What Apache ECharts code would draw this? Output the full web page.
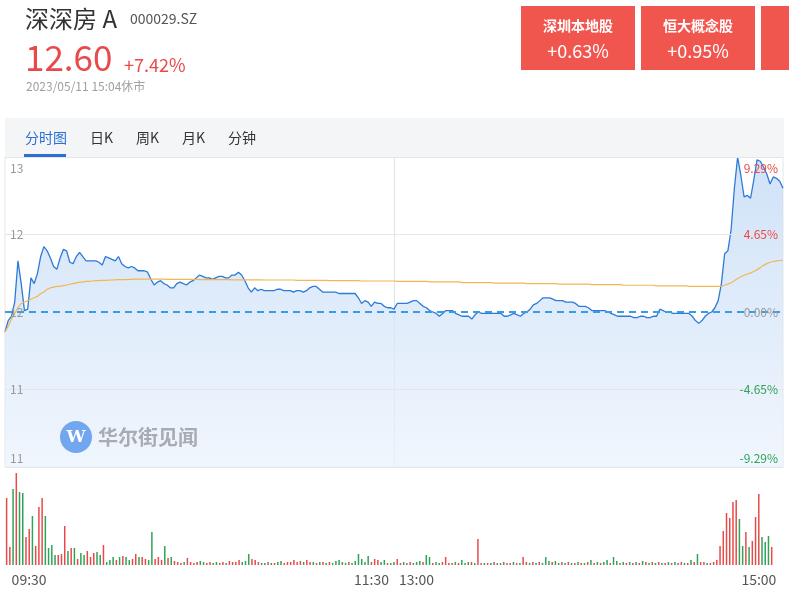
<!DOCTYPE html>
<html><head><meta charset="utf-8">
<script src="https://cdn.jsdelivr.net/npm/echarts@6/dist/echarts.min.js"></script>
<style>html,body{margin:0;padding:0;background:#fff}#c{width:789px;height:591px}</style>
</head><body><div id="c"></div>
<script>
// ---- header / text data ----
const stockName = '深深房 A';
const stockCode = '000029.SZ';
const lastPrice = '12.60';
const changePct = '+7.42%';
const timeStamp = '2023/05/11 15:04休市';
const sectorNames = ['深圳本地股', '恒大概念股'];
const sectorChanges = ['+0.63%', '+0.95%'];
const tabs = ['分时图', '日K', '周K', '月K', '分钟'];
const xTickLabels = ['09:30', '11:30', '13:00', '15:00'];
const watermarkText = '华尔街见闻';
const prevClose = 11.73;

// ---- minute price (241 points: 09:30-11:30, 13:01-15:00) ----
const price = [
11.59,11.67,11.70,11.80,12.09,11.93,11.74,11.75,11.97,11.93,
12.00,12.12,12.19,12.16,12.11,12.05,12.03,12.11,12.17,12.16,
12.08,12.07,12.12,12.15,12.12,12.09,12.09,12.09,12.09,12.08,
12.06,12.12,12.11,12.10,12.09,12.12,12.07,12.05,12.04,12.05,
12.04,12.02,12.02,12.02,12.01,11.96,11.92,11.94,11.95,11.93,
11.92,11.90,11.90,11.93,11.94,11.93,11.92,11.94,11.95,11.97,
11.99,11.98,11.97,11.97,11.96,11.97,11.98,11.98,11.97,11.97,
11.99,11.99,12.01,11.99,11.95,11.90,11.87,11.90,11.88,11.89,
11.88,11.88,11.88,11.88,11.89,11.89,11.88,11.88,11.88,11.87,
11.88,11.88,11.87,11.88,11.90,11.91,11.91,11.89,11.87,11.87,
11.87,11.87,11.87,11.86,11.86,11.86,11.86,11.86,11.86,11.83,
11.79,11.81,11.80,11.77,11.80,11.79,11.79,11.77,11.76,11.76,
11.75,11.79,11.79,11.79,11.79,11.80,11.81,11.81,11.79,11.77,
11.76,11.74,11.73,11.72,11.70,11.72,11.74,11.74,11.74,11.72,
11.71,11.70,11.70,11.70,11.68,11.71,11.73,11.72,11.72,11.72,
11.72,11.72,11.72,11.72,11.70,11.70,11.71,11.72,11.71,11.70,
11.72,11.73,11.75,11.78,11.79,11.81,11.83,11.83,11.83,11.82,
11.81,11.81,11.81,11.80,11.80,11.80,11.79,11.77,11.77,11.77,
11.76,11.74,11.74,11.74,11.74,11.74,11.73,11.72,11.71,11.70,
11.70,11.70,11.70,11.70,11.69,11.69,11.70,11.70,11.69,11.69,
11.70,11.70,11.75,11.74,11.73,11.73,11.72,11.72,11.72,11.72,
11.72,11.72,11.70,11.67,11.65,11.67,11.70,11.72,11.73,11.76,
11.81,11.93,12.14,12.16,12.31,12.60,12.82,12.69,12.54,12.55,
12.53,12.66,12.80,12.79,12.75,12.70,12.63,12.68,12.67,12.65,
12.60
];

// ---- average price line ----
const avgPrice = [
11.59,11.63,11.68,11.72,11.76,11.79,11.80,11.81,11.82,11.83,
11.84,11.86,11.87,11.89,11.90,11.905,11.91,11.91,11.915,11.92,
11.925,11.93,11.935,11.94,11.94,11.945,11.945,11.948,11.95,11.95,
11.952,11.953,11.954,11.955,11.956,11.957,11.958,11.958,11.959,11.96,
11.961,11.961,11.961,11.961,11.961,11.961,11.961,11.961,11.961,11.961,
11.96,11.96,11.96,11.96,11.96,11.96,11.96,11.96,11.96,11.96,
11.958,11.958,11.958,11.958,11.958,11.958,11.958,11.958,11.958,11.958,
11.956,11.956,11.956,11.956,11.956,11.956,11.956,11.956,11.956,11.956,
11.955,11.955,11.955,11.955,11.955,11.955,11.955,11.955,11.955,11.955,
11.953,11.953,11.953,11.953,11.953,11.953,11.953,11.953,11.953,11.953,
11.951,11.951,11.951,11.951,11.951,11.951,11.951,11.951,11.951,11.951,
11.948,11.948,11.948,11.948,11.948,11.948,11.948,11.948,11.948,11.948,
11.948,11.946,11.946,11.946,11.946,11.946,11.946,11.946,11.946,11.946,
11.946,11.942,11.942,11.942,11.942,11.942,11.942,11.942,11.942,11.942,
11.942,11.937,11.937,11.937,11.937,11.937,11.937,11.937,11.937,11.937,
11.937,11.933,11.933,11.933,11.933,11.933,11.933,11.933,11.933,11.933,
11.933,11.930,11.930,11.930,11.930,11.930,11.930,11.930,11.930,11.930,
11.930,11.926,11.926,11.926,11.926,11.926,11.926,11.926,11.926,11.926,
11.926,11.922,11.922,11.922,11.922,11.922,11.922,11.922,11.922,11.922,
11.922,11.918,11.918,11.918,11.918,11.918,11.918,11.918,11.918,11.918,
11.918,11.914,11.914,11.914,11.914,11.914,11.914,11.914,11.914,11.914,
11.914,11.910,11.910,11.910,11.910,11.910,11.910,11.910,11.910,11.910,
11.910,11.912,11.918,11.926,11.936,11.950,11.965,11.978,11.988,11.997,
12.005,12.015,12.028,12.042,12.058,12.070,12.080,12.085,12.090,12.092,
12.094
];

// ---- minute volume and direction (1 = up/red, 0 = down/green) ----
const volume = [
67,18,76,92,73,72,28,36,49,19,
58,67,49,17,20,10,10,11,39,14,
17,17,6,12,10,14,8,12,13,10,
20,3,5,8,5,8,9,8,5,6,
11,8,8,6,5,33,6,8,5,19,
7,8,4,3,2,3,7,3,2,3,
4,3,2,3,2,3,2,3,2,4,
3,3,5,3,4,11,6,5,3,2,
2,3,2,2,3,4,2,3,3,5,
3,4,3,5,3,3,2,3,3,2,
3,2,4,5,3,2,3,2,4,11,
6,3,9,3,6,5,3,5,2,2,
3,6,2,3,2,3,2,3,4,3,
10,8,2,3,2,3,8,2,2,3,
2,5,2,3,3,2,26,2,2,2,
2,3,2,2,3,2,2,3,2,2,
8,3,2,3,2,3,2,8,4,3,
4,2,3,2,3,2,2,3,2,2,
3,5,2,3,2,3,5,2,8,4,
2,3,2,3,2,3,2,4,3,2,
3,2,3,2,2,3,2,3,2,3,
2,2,5,3,11,3,3,2,2,3,
5,19,34,52,47,63,65,46,19,33,
18,24,48,71,28,23,29,18,0,0,
0
];
const volUp = [
1,1,0,1,0,0,1,1,0,1,
1,1,0,0,0,0,1,1,1,0,
1,0,1,0,0,1,1,1,0,0,
1,0,0,0,1,0,1,0,0,1,
1,0,1,1,0,0,1,1,1,0,
1,0,1,1,1,0,1,1,1,1,
0,0,1,1,0,0,1,1,0,1,
1,1,1,0,0,0,1,1,1,0,
0,1,0,1,0,0,1,1,1,1,
1,1,0,1,1,0,1,0,1,0,
1,0,0,0,0,0,1,0,0,0,
0,0,0,1,1,1,0,0,1,0,
0,1,1,0,1,1,0,0,0,1,
0,0,1,0,0,1,1,1,1,0,
1,0,0,0,1,0,1,1,0,1,
0,1,0,1,0,1,1,0,1,0,
1,1,0,1,0,1,0,0,0,1,
0,0,1,0,1,0,1,0,1,0,
1,0,1,0,1,0,0,1,0,0,
1,0,1,0,1,0,1,0,1,0,
1,0,1,0,1,0,1,0,1,1,
0,1,0,1,0,1,1,0,1,1,
1,1,1,1,1,1,1,0,0,1,
0,1,1,1,0,0,0,1,1,1,
1
];

// ---- build categories (trading minutes) ----
const minutes = [];
function pushRange(h0, m0, h1, m1) {
  let h = h0, m = m0;
  while (h < h1 || (h === h1 && m <= m1)) {
    minutes.push(String(h).padStart(2, '0') + ':' + String(m).padStart(2, '0'));
    m++; if (m === 60) { m = 0; h++; }
  }
}
pushRange(9, 30, 11, 30);
pushRange(13, 1, 15, 0);

const toPct = p => (p / prevClose - 1) * 100;
const pricePct = price.map(toPct);
const avgPct = avgPrice.map(toPct);
const maxPct = Math.max(...price.map(p => Math.abs(toPct(p))));
const RED = '#e84a4a', GREEN = '#2fa35a';

const chart = echarts.init(document.getElementById('c'), null, { renderer: 'canvas' });

const FONT = '"Noto Sans CJK SC", "Noto Sans", sans-serif';
const graphic = [
  { type: 'rect', shape: { x: 5, y: 118, width: 779, height: 39 }, style: { fill: '#f4f5f7' }, z: 0 },
  { type: 'rect', shape: { x: 24, y: 154, width: 42, height: 3 }, style: { fill: '#2a6fd6' }, z: 5 },
  { type: 'text', x: 25, y: 19, style: { text: stockName, font: '24px ' + FONT, fill: '#333', textVerticalAlign: 'middle' } },
  { type: 'text', x: 130, y: 19, style: { text: stockCode, font: '14px ' + FONT, fill: '#555', textVerticalAlign: 'middle' } },
  { type: 'text', x: 25, y: 58, style: { text: lastPrice, font: '35px ' + FONT, fill: RED, textVerticalAlign: 'middle' } },
  { type: 'text', x: 124, y: 65, style: { text: changePct, font: '18px ' + FONT, fill: RED, textVerticalAlign: 'middle' } },
  { type: 'text', x: 26, y: 86, style: { text: timeStamp, font: '12px ' + FONT, fill: '#a0a0a0', textVerticalAlign: 'middle' } }
];
const boxX = [521, 641, 761];
boxX.forEach((bx, k) => {
  graphic.push({ type: 'rect', shape: { x: bx, y: 6, width: 114, height: 64 }, style: { fill: '#f0564e' } });
  if (k < sectorNames.length) {
    graphic.push({ type: 'text', x: bx + 57, y: 26, style: { text: sectorNames[k], font: 'bold 14px ' + FONT, fill: '#fff', textAlign: 'center', textVerticalAlign: 'middle' } });
    graphic.push({ type: 'text', x: bx + 57, y: 51, style: { text: sectorChanges[k], font: '18px ' + FONT, fill: '#fff', textAlign: 'center', textVerticalAlign: 'middle' } });
  }
});
const tabX = [25, 90, 136, 182, 228];
tabs.forEach((t, k) => {
  graphic.push({ type: 'text', x: tabX[k], y: 138, z: 5, style: { text: t, font: '14px ' + FONT, fill: k === 0 ? '#2a6fd6' : '#333', textVerticalAlign: 'middle' } });
});
graphic.push({ type: 'circle', shape: { cx: 76, cy: 437, r: 16 }, style: { fill: '#72a6ee' }, z: 10 });
graphic.push({ type: 'text', x: 76, y: 438, z: 11, style: { text: 'W', font: 'bold 17px "DejaVu Serif", serif', fill: '#fff', textAlign: 'center', textVerticalAlign: 'middle' } });
graphic.push({ type: 'text', x: 98, y: 437, z: 10, style: { text: watermarkText, font: 'bold 20px "Noto Sans CJK SC", sans-serif', fill: '#a8acb2', textVerticalAlign: 'middle' } });

const SPLIT = '#e6e6e6';
const option = {
  animation: false,
  backgroundColor: '#fff',
  textStyle: { fontFamily: FONT },
  graphic: graphic,
  grid: [
    { left: 5, right: 6, top: 157, height: 310, show: true, borderColor: '#e6e6e6', borderWidth: 1, backgroundColor: 'transparent' },
    { left: 5, right: 6, top: 470, height: 95 }
  ],
  xAxis: [
    { type: 'category', gridIndex: 0, data: minutes, boundaryGap: false,
      axisLine: { show: false }, axisTick: { show: false }, axisLabel: { show: false },
      splitLine: { show: true, interval: (i) => i === 120, lineStyle: { color: '#e2e2e2' } } },
    { type: 'category', gridIndex: 1, data: minutes, boundaryGap: true,
      axisLine: { show: false }, axisTick: { show: false }, splitLine: { show: false },
      axisLabel: {
        interval: (i) => i === 0 || i === 120 || i === 240,
        alignMinLabel: 'left', alignMaxLabel: 'right',
        padding: [0, 5, 0, 5], margin: 8,
        color: '#555', fontSize: 14,
        formatter: (v, i) => i === 0 ? xTickLabels[0] : (i === 120 ? '{a|' + xTickLabels[1] + '}{g|}{a|' + xTickLabels[2] + '}' : xTickLabels[3]),
        rich: { a: { fontSize: 14, color: '#555' }, g: { width: 10 } }
      } }
  ],
  yAxis: [
    { type: 'value', gridIndex: 0, min: -maxPct, max: maxPct, interval: maxPct / 2, position: 'left', z: 10,
      axisLine: { show: false }, axisTick: { show: false },
      splitLine: { show: true, lineStyle: { color: [SPLIT, SPLIT, 'rgba(0,0,0,0)', SPLIT, SPLIT] } },
      axisLabel: { inside: true, margin: 5, color: '#999', fontSize: 12, padding: [5, 0, 3, 0],
        verticalAlignMaxLabel: 'top', verticalAlignMinLabel: 'bottom',
        formatter: v => (prevClose * (1 + v / 100)).toFixed(0) } },
    { type: 'value', gridIndex: 0, min: -maxPct, max: maxPct, interval: maxPct / 2, position: 'right', z: 10,
      axisLine: { show: false }, axisTick: { show: false }, splitLine: { show: false },
      axisLabel: { inside: true, margin: 5, fontSize: 12, padding: [5, 0, 3, 0],
        verticalAlignMaxLabel: 'top', verticalAlignMinLabel: 'bottom',
        color: v => (v > 0.001 ? RED : (v < -0.001 ? GREEN : '#999')),
        formatter: v => (Math.abs(v) < 0.001 ? 0 : v).toFixed(2) + '%' } },
    { type: 'value', gridIndex: 1, min: 0, max: 95, show: false, splitLine: { show: false } }
  ],
  series: [
    { type: 'line', name: 'price', xAxisIndex: 0, yAxisIndex: 0, data: pricePct, showSymbol: false, symbol: 'none',
      lineStyle: { color: '#2d7ad8', width: 1.3 }, z: 3,
      areaStyle: { origin: 'start', color: new echarts.graphic.LinearGradient(0, 0, 0, 1, [
        { offset: 0, color: '#bcd6f5' }, { offset: 1, color: '#eaf2fc' }]) },
      markLine: { silent: true, symbol: 'none', label: { show: false },
        lineStyle: { color: '#3a9be6', type: [7, 5], width: 2 },
        data: [{ yAxis: 0 }] } },
    { type: 'line', name: 'avg', xAxisIndex: 0, yAxisIndex: 0, data: avgPct, showSymbol: false, symbol: 'none',
      lineStyle: { color: '#f2b655', width: 1.2 }, z: 4 },
    { type: 'bar', name: 'vol', xAxisIndex: 1, yAxisIndex: 2, barWidth: 1.5,
      data: volume.map((v, i) => ({ value: v, itemStyle: { color: volUp[i] ? RED : GREEN } })) }
  ]
};
chart.setOption(option);
</script>
</body></html>
